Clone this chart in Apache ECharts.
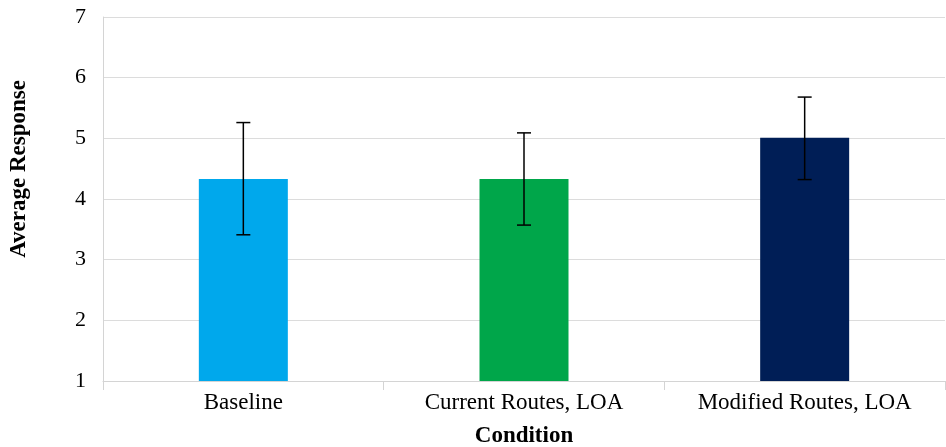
<!DOCTYPE html>
<html>
<head>
<meta charset="utf-8">
<script src="https://cdn.jsdelivr.net/npm/echarts@6/dist/echarts.min.js"></script>
<style>
  html, body { margin: 0; padding: 0; background: #fff; }
  #chart { width: 946px; height: 447px; }
</style>
</head>
<body>
<div id="chart"></div>
<script>
// data
const categories = ['Baseline', 'Current Routes, LOA', 'Modified Routes, LOA']
const means = [4.33, 4.33, 5.01]
const errLow = [3.41, 3.57, 4.32]
const errHigh = [5.26, 5.09, 5.68]
const barColors = ['#00A8EC', '#00A64A', '#001E56']
const yTicks = [1, 2, 3, 4, 5, 6, 7]

const chart = echarts.init(document.getElementById('chart'))
const serif = '"Liberation Serif", "DejaVu Serif", serif'

const option = {
  animation: false,
  grid: { left: 103, right: 1, top: 17, bottom: 66, containLabel: false, outerBoundsMode: 'none' },
  graphic: [{
    type: 'text',
    left: 8,
    top: 80,
    rotation: Math.PI / 2,
    style: {
      text: 'Average Response',
      font: 'bold 23px ' + serif,
      fill: '#000'
    }
  }],
  xAxis: {
    type: 'category',
    data: categories,
    name: 'Condition',
    nameLocation: 'middle',
    nameGap: 44,
    nameTextStyle: { fontFamily: serif, fontWeight: 'bold', fontSize: 23, color: '#000', verticalAlign: 'top' },
    axisLine: { lineStyle: { color: '#d4d4d4', width: 1 } },
    axisTick: { show: true, length: 9, lineStyle: { color: '#d4d4d4' } },
    axisLabel: { fontFamily: serif, fontSize: 23, color: '#000', margin: 10 }
  },
  yAxis: {
    type: 'value',
    min: yTicks[0],
    max: yTicks[yTicks.length - 1],
    interval: 1,
    axisLine: { show: true, lineStyle: { color: '#d4d4d4' } },
    axisTick: { show: false },
    splitLine: { lineStyle: { color: '#dcdcdc', width: 1 } },
    axisLabel: { fontFamily: serif, fontSize: 22, color: '#000', margin: 17 }
  },
  series: [
    {
      type: 'bar',
      barWidth: 89,
      data: means.map((v, i) => ({ value: v, itemStyle: { color: barColors[i] } }))
    },
    {
      type: 'custom',
      z: 10,
      data: categories.map((c, i) => [i, errLow[i], errHigh[i]]),
      renderItem: function (params, api) {
        const x = api.value(0)
        const lo = api.coord([x, api.value(1)])
        const hi = api.coord([x, api.value(2)])
        const half = 7
        const style = { stroke: '#000', lineWidth: 1.5 }
        return {
          type: 'group',
          children: [
            { type: 'line', shape: { x1: hi[0], y1: hi[1], x2: lo[0], y2: lo[1] }, style: style },
            { type: 'line', shape: { x1: hi[0] - half, y1: hi[1], x2: hi[0] + half, y2: hi[1] }, style: style },
            { type: 'line', shape: { x1: lo[0] - half, y1: lo[1], x2: lo[0] + half, y2: lo[1] }, style: style }
          ]
        }
      }
    }
  ]
}
chart.setOption(option)
</script>
</body>
</html>
